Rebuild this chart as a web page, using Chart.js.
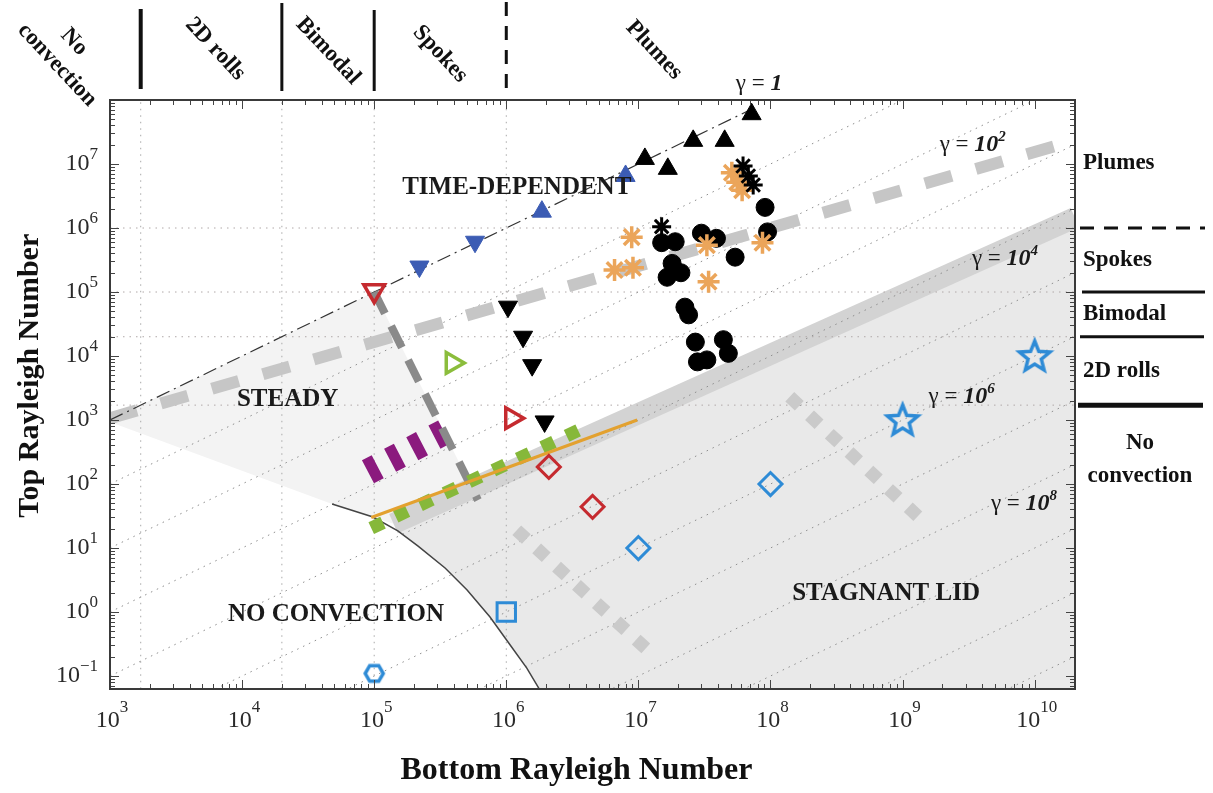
<!DOCTYPE html>
<html>
<head>
<meta charset="utf-8">
<script src="https://cdn.jsdelivr.net/npm/chart.js@4.4.0/dist/chart.umd.min.js"></script>
<style>
  html, body { margin: 0; padding: 0; background: #fff; }
</style>
</head>
<body>
<canvas id="myChart" width="1213" height="793"></canvas>
<script>
// tick values and their exponents (labels are 10 + raised exponent)
var xTickValues = [1e3, 1e4, 1e5, 1e6, 1e7, 1e8, 1e9, 1e10];
var xTickExp = ['3', '4', '5', '6', '7', '8', '9', '10'];
var yTickValues = [1e-1, 1e0, 1e1, 1e2, 1e3, 1e4, 1e5, 1e6, 1e7];
var yTickExp = ['-1', '0', '1', '2', '3', '4', '5', '6', '7'];

// regime limits, same on both axes
var regimeBounds = [1708, 2e4, 1e5, 1e6];

// markers (bottom Ra / top Ra)
var blackUpBot = [1.12e7, 1.67e7, 2.6e7, 4.5e7, 7.2e7];
var blackUpTop = [1.2e7, 8.4e6, 2.3e7, 2.3e7, 6e7];
var blueUpBot = [1.86e6, 8e6];
var blueUpTop = [1.8e6, 6.5e6];
var blueDownBot = [2.2e5, 5.8e5];
var blueDownTop = [2.5e5, 6.1e5];
var blackDownBot = [1.03e6, 1.34e6, 1.57e6, 1.95e6];
var blackDownTop = [5.9e4, 2e4, 7.2e3, 950];
var circleBot = [9.1e7, 9.5e7, 3e7, 3.9e7, 5.4e7, 1.5e7, 1.9e7, 1.8e7, 1.65e7, 2.1e7, 2.25e7, 2.4e7, 2.7e7, 4.4e7, 4.8e7, 2.8e7, 3.3e7];
var circleTop = [2.1e6, 8.7e5, 8.3e5, 6.9e5, 3.5e5, 5.9e5, 6.1e5, 2.8e5, 1.7e5, 2e5, 5.8e4, 4.4e4, 1.65e4, 1.8e4, 1.1e4, 8.1e3, 8.7e3];
var orangeAstBot = [5.1e7, 5.6e7, 6.1e7, 8.9e6, 6.6e6, 9.1e6, 3.3e7, 8.7e7, 3.4e7];
var orangeAstTop = [7.3e6, 5.2e6, 3.9e6, 7.2e5, 2.2e5, 2.4e5, 5.4e5, 5.9e5, 1.45e5];
var blackAstBot = [1.5e7, 6.2e7, 7.4e7, 6.8e7];
var blackAstTop = [1.05e6, 9.3e6, 4.7e6, 6.5e6];
var redDownBot = [1e5];
var redDownTop = [1.05e5];
var redRightBot = [1.1e6];
var redRightTop = [1.07e3];
var greenRightBot = [3.9e5];
var greenRightTop = [7.8e3];
var redDiamondBot = [2.1e6, 4.5e6];
var redDiamondTop = [185, 44];
var blueDiamondBot = [1e7, 1e8];
var blueDiamondTop = [10, 100];
var blueSquareBot = [1e6];
var blueSquareTop = [1];
var blueHexBot = [1e5];
var blueHexTop = [0.11];
var blueStarBot = [1e9, 1e10];
var blueStarTop = [1e3, 1e4];

// lines
var gammaOneBot = [1e3, 7.2e7];
var gammaOneTop = [1e3, 7.2e7];
var gammaLineBot = [1e3, 1e11];
var gammaStartTop = [1e2, 1e1, 1e0, 1e-1, 1e-2, 1e-3, 1e-4, 1e-5, 1e-6, 1e-7, 1e-8];
var gammaEndTop = [1e10, 1e9, 1e8, 1e7, 1e6, 1e5, 1e4, 1e3, 1e2, 1e1, 1e0];
var bigDashBot = [1e3, 1.55e10];
var bigDashTop = [1.07e3, 2e7];
var bandBot = [1.4e5, 2.02e10];
var bandTop = [24, 1.45e6];
var darkDashBot = [1e5, 6.1e5];
var darkDashTop = [1e5, 56];
var purpleBot = [8.97e4, 3.75e5];
var purpleTop = [155, 724];
var greenBot = [9.5e4, 3.5e6];
var greenTop = [20.5, 690];
var orangeBot = [9.5e4, 9.8e6];
var orangeTop = [30, 1000];
var lightDotABot = [1.2e6, 1.3e7];
var lightDotATop = [19, 0.21];
var lightDotBBot = [1.4e8, 1.5e9];
var lightDotBTop = [2300, 24];
var curveBot = [4.8e4, 9.8e4, 1.51e5, 2.15e5, 3.44e5, 5.05e5, 7.53e5, 1.07e6, 1.43e6, 1.8e6];
var curveTop = [48.7, 30.5, 18.5, 10.7, 4.87, 2.21, 0.835, 0.305, 0.133, 0.06];

// shaded regions
var steadyBot = [1e3, 1e5, 6.1e5, 1.4e5, 4.8e4, 1e3, 1e3];
var steadyTop = [1e3, 1e5, 56, 24, 48.7, 930, 1e3];
var lidBot = [1.4e5, 2.02e10, 2.02e10, 1.8e6, 1.43e6, 1.07e6, 7.53e5, 5.05e5, 3.44e5, 2.15e5, 1.51e5, 1.4e5];
var lidTop = [24, 1.45e6, 0.06, 0.06, 0.133, 0.305, 0.835, 2.21, 4.87, 10.7, 18.5, 24];

var SERIF = '"Liberation Serif", "DejaVu Serif", serif';

function pts(xs, ys) {
    return xs.map(function (x, i) { return {x: x, y: ys[i]}; });
}

function lineSet(xs, ys, color, width, dash, order, extra) {
    return Object.assign({
        data: pts(xs, ys),
        showLine: true,
        pointRadius: 0,
        pointHitRadius: 0,
        borderColor: color,
        backgroundColor: color,
        borderWidth: width,
        borderDash: dash,
        fill: false,
        clip: 0,
        order: order
    }, extra || {});
}

function markSet(xs, ys, style, color, filled, radius, bw, order, extra) {
    return Object.assign({
        data: pts(xs, ys),
        showLine: false,
        pointStyle: style,
        pointRadius: radius,
        pointBorderColor: color,
        pointBackgroundColor: filled ? color : 'rgba(0,0,0,0)',
        pointBorderWidth: bw,
        clip: false,
        order: order
    }, extra || {});
}

function starImg(color) {
    var cv = document.createElement('canvas');
    cv.width = cv.height = 40;
    var c = cv.getContext('2d');
    c.beginPath();
    for (var i = 0; i < 10; i++) {
        var r = i % 2 ? 7 : 16;
        var a = -Math.PI / 2 + i * Math.PI / 5;
        c.lineTo(20 + r * Math.cos(a), 21 + r * Math.sin(a));
    }
    c.closePath();
    c.strokeStyle = color;
    c.lineWidth = 3.5;
    c.stroke();
    return cv;
}

function hexImg(color) {
    var cv = document.createElement('canvas');
    cv.width = cv.height = 28;
    var c = cv.getContext('2d');
    c.beginPath();
    for (var i = 0; i < 6; i++) {
        var a = i * Math.PI / 3;
        c.lineTo(14 + 9 * Math.cos(a), 14 + 9 * Math.sin(a));
    }
    c.closePath();
    c.strokeStyle = color;
    c.lineWidth = 3.5;
    c.stroke();
    return cv;
}

var datasets = [
    lineSet(steadyBot, steadyTop, '#f3f3f3', 0, [], 100, {fill: 'shape', backgroundColor: '#f3f3f3'}),
    lineSet(lidBot, lidTop, '#e9e9e9', 0, [], 99, {fill: 'shape', backgroundColor: '#e9e9e9'}),
    lineSet(bandBot, bandTop, '#d3d3d3', 21, [], 95)
];

regimeBounds.forEach(function (b) {
    datasets.push(lineSet([b, b], [0.05, 1e8], '#a9a9a9', 1, [1.5, 5], 90));
    datasets.push(lineSet([1e3, 2.02e10], [b, b], '#b0a8a8', 1, [1.5, 5], 90));
});
gammaStartTop.forEach(function (s, i) {
    datasets.push(lineSet(gammaLineBot, [s, gammaEndTop[i]], '#8f8f8f', 1, [1.5, 5], 88));
});

datasets.push(
    lineSet(bigDashBot, bigDashTop, '#c6c6c6', 12, [28, 25], 80),
    lineSet(lightDotABot, lightDotATop, '#cacaca', 13, [13, 14], 80),
    lineSet(lightDotBBot, lightDotBTop, '#cacaca', 13, [13, 14], 80),
    lineSet(curveBot, curveTop, '#444444', 1.5, [], 70),
    lineSet(gammaOneBot, gammaOneTop, '#333333', 1.2, [14, 5, 2, 5], 70),
    lineSet(darkDashBot, darkDashTop, '#8a8a8a', 8, [24, 14], 60),
    lineSet(purpleBot, purpleTop, '#8b1a7e', 26, [11, 14], 60),
    lineSet(greenBot, greenTop, '#86b83a', 13, [13, 14], 58),
    lineSet(orangeBot, orangeTop, '#e3a12f', 3, [], 55),

    markSet(circleBot, circleTop, 'circle', '#000000', true, 9, 1, 10),
    markSet(orangeAstBot, orangeAstTop, 'star', '#eba55a', false, 11, 3.5, 9),
    markSet(blackAstBot, blackAstTop, 'star', '#000000', false, 9.5, 3, 8),
    markSet(blackUpBot, blackUpTop, 'triangle', '#000000', true, 11, 1, 5),
    markSet(blueUpBot, blueUpTop, 'triangle', '#3c5cb4', true, 11, 1, 5),
    markSet(blueDownBot, blueDownTop, 'triangle', '#3c5cb4', true, 11, 1, 5, {pointRotation: 180}),
    markSet(blackDownBot, blackDownTop, 'triangle', '#000000', true, 11, 1, 5, {pointRotation: 180}),
    markSet(redDownBot, redDownTop, 'triangle', '#c52a2f', false, 12, 3.5, 5, {pointRotation: 180}),
    markSet(redRightBot, redRightTop, 'triangle', '#c52a2f', false, 12, 3.5, 5, {pointRotation: 90}),
    markSet(greenRightBot, greenRightTop, 'triangle', '#8bbd3c', false, 12, 3.5, 5, {pointRotation: 90}),
    markSet(redDiamondBot, redDiamondTop, 'rectRot', '#c52a2f', false, 11.5, 3, 5),
    markSet(blueDiamondBot, blueDiamondTop, 'rectRot', '#2e8bd6', false, 11.5, 3, 5),
    markSet(blueSquareBot, blueSquareTop, 'rect', '#2e8bd6', false, 13, 3, 5),
    markSet(blueHexBot, blueHexTop, hexImg('#2e8bd6'), '#2e8bd6', false, 10, 3, 5),
    markSet(blueStarBot, blueStarTop, starImg('#2e8bd6'), '#2e8bd6', false, 14, 3, 5)
);

function drawRuns(c, cx, base, runs, align) {
    var w = 0;
    runs.forEach(function (r) { c.font = r.f; r.w = c.measureText(r.t).width; w += r.w; });
    var x = align === 'right' ? cx - w : cx - w / 2;
    c.textAlign = 'left';
    c.textBaseline = 'alphabetic';
    runs.forEach(function (r) { c.font = r.f; c.fillText(r.t, x, base + (r.dy || 0)); x += r.w; });
}

var decor = {
    id: 'decor',
    beforeDraw: function (chart) {
        var c = chart.ctx;
        c.save();
        c.fillStyle = '#ffffff';
        c.fillRect(0, 0, chart.width, chart.height);
        c.restore();
    },
    afterDatasetsDraw: function (chart) {
        var c = chart.ctx, a = chart.chartArea, sx = chart.scales.x, sy = chart.scales.y;
        c.save();
        c.strokeStyle = '#444';
        c.lineWidth = 1;
        c.beginPath();
        for (var d = 3; d <= 10; d++) {
            for (var m = 1; m <= 9; m++) {
                var v = m * Math.pow(10, d);
                if (v > sx.max) continue;
                var p = Math.round(sx.getPixelForValue(v)) + 0.5, len = m === 1 ? 9 : 5;
                c.moveTo(p, a.bottom); c.lineTo(p, a.bottom - len);
                c.moveTo(p, a.top); c.lineTo(p, a.top + len);
            }
        }
        for (var e = -2; e <= 7; e++) {
            for (var k = 1; k <= 9; k++) {
                var w = k * Math.pow(10, e);
                if (w < sy.min || w > sy.max) continue;
                var q = Math.round(sy.getPixelForValue(w)) + 0.5, l2 = k === 1 ? 9 : 5;
                c.moveTo(a.left, q); c.lineTo(a.left + l2, q);
                c.moveTo(a.right, q); c.lineTo(a.right - l2, q);
            }
        }
        c.stroke();
        c.lineWidth = 2;
        c.strokeStyle = '#3a3a3a';
        c.strokeRect(a.left, a.top, a.right - a.left, a.bottom - a.top);

        // region names
        c.fillStyle = '#1a1a1a';
        c.font = 'bold 25px ' + SERIF;
        c.textAlign = 'center';
        c.textBaseline = 'middle';
        [['TIME-DEPENDENT', 1.2e6, 4.4e6], ['STEADY', 2.21e4, 2.2e3],
         ['NO CONVECTION', 5.14e4, 0.93], ['STAGNANT LID', 7.5e8, 2.05]].forEach(function (t) {
            c.fillText(t[0], sx.getPixelForValue(t[1]), sy.getPixelForValue(t[2]) + 1);
        });

        // gamma labels
        var reg = '23px ' + SERIF, bi = 'italic bold 24px ' + SERIF, sup = 'italic bold 15px ' + SERIF;
        [[null, 8.2e7, 1.9e8], ['2', 3.4e9, 2.15e7], ['4', 5.96e9, 3.5e5], ['6', 2.8e9, 2.45e3], ['8', 8.3e9, 52]].forEach(function (g) {
            var runs = [{t: 'γ = ', f: reg}];
            if (g[0] === null) runs.push({t: '1', f: bi});
            else runs.push({t: '10', f: bi}, {t: g[0], f: sup, dy: -10});
            drawRuns(c, sx.getPixelForValue(g[1]), sy.getPixelForValue(g[2]) + 8, runs);
        });
        c.restore();
    },
    afterDraw: function (chart) {
        var c = chart.ctx, sx = chart.scales.x, sy = chart.scales.y, a = chart.chartArea;
        c.save();
        // tick labels: 10 with raised exponent
        c.fillStyle = '#2a2a2a';
        var big = '24px ' + SERIF, small = '17px ' + SERIF;
        xTickValues.forEach(function (v, i) {
            drawRuns(c, sx.getPixelForValue(v) + 2, a.bottom + 38, [{t: '10', f: big}, {t: xTickExp[i], f: small, dy: -15}]);
        });
        yTickValues.forEach(function (v, i) {
            var ex = yTickExp[i].replace('-', '\u2212');
            drawRuns(c, a.left - 12, sy.getPixelForValue(v) + 6, [{t: '10', f: big}, {t: ex, f: small, dy: -11}], 'right');
        });

        c.strokeStyle = '#111';
        c.fillStyle = '#111';
        // regime bars above the plot
        var bx = regimeBounds.map(function (v) { return sx.getPixelForValue(v); });
        var spec = [[9, 89, 4, []], [3, 91, 3, []], [10, 91, 3, []], [2, 91, 3, [14, 10]]];
        spec.forEach(function (s, i) {
            c.lineWidth = s[2];
            c.setLineDash(s[3]);
            c.beginPath(); c.moveTo(bx[i], s[0]); c.lineTo(bx[i], s[1]); c.stroke();
        });
        // regime lines right of the plot
        var by = regimeBounds.map(function (v) { return sy.getPixelForValue(v); });
        var rspec = [[1078, 1203, 5, []], [1080, 1204, 3, []], [1082, 1205, 3, []], [1080, 1205, 3, [14, 10]]];
        rspec.forEach(function (s, i) {
            c.lineWidth = s[2];
            c.setLineDash(s[3]);
            c.beginPath(); c.moveTo(s[0], by[i]); c.lineTo(s[1], by[i]); c.stroke();
        });
        c.setLineDash([]);

        c.font = 'bold 23px ' + SERIF;
        c.textBaseline = 'middle';
        // right labels
        c.textAlign = 'left';
        c.fillText('Plumes', 1083, 163);
        c.fillText('Spokes', 1083, (by[3] + by[2]) / 2);
        c.fillText('Bimodal', 1083, (by[2] + by[1]) / 2);
        c.fillText('2D rolls', 1083, (by[1] + by[0]) / 2);
        c.textAlign = 'center';
        c.fillText('No', 1140, 443);
        c.fillText('convection', 1140, 476);

        // rotated labels on top
        var tops = [['No', 74, 42], ['convection', 57, 65], ['2D rolls', (bx[0] + bx[1]) / 2 + 4, 49],
                    ['Bimodal', (bx[1] + bx[2]) / 2, 51], ['Spokes', (bx[2] + bx[3]) / 2, 54], ['Plumes', 654, 50]];
        tops.forEach(function (t) {
            c.save();
            c.translate(t[1], t[2]);
            c.rotate(47 * Math.PI / 180);
            c.fillText(t[0], 0, 0);
            c.restore();
        });
        c.restore();
    }
};

const ctx = document.getElementById('myChart');

let chart = new Chart(ctx, {
    type: 'scatter',
    data: { datasets: datasets },
    options: {
        responsive: false,
        animation: false,
        devicePixelRatio: 1,
        layout: { padding: { top: 100, right: 138, left: 0, bottom: 0 } },
        plugins: { legend: { display: false }, tooltip: { enabled: false } },
        elements: { line: { tension: 0 } },
        scales: {
            x: {
                type: 'logarithmic',
                min: 1e3,
                max: 2.02e10,
                afterBuildTicks: function (s) { s.ticks = xTickValues.map(function (v) { return {value: v}; }); },
                afterFit: function (s) { s.height = 104; },
                grid: { display: false, drawTicks: false },
                border: { display: false },
                ticks: { display: false },
                title: {
                    display: true,
                    text: 'Bottom Rayleigh Number    ',
                    color: '#111',
                    font: { family: SERIF, size: 32, weight: 'bold' },
                    padding: { top: 0, bottom: 3 }
                }
            },
            y: {
                type: 'logarithmic',
                min: 0.0627,
                max: 1e8,
                afterBuildTicks: function (s) { s.ticks = yTickValues.map(function (v) { return {value: v}; }); },
                afterFit: function (s) { s.width = 110; },
                grid: { display: false, drawTicks: false },
                border: { display: false },
                ticks: { display: false },
                title: {
                    display: true,
                    text: '     Top Rayleigh Number',
                    color: '#111',
                    font: { family: SERIF, size: 30, weight: 'bold' },
                    padding: { top: 12, bottom: 0 }
                }
            }
        }
    },
    plugins: [decor]
});
</script>
</body>
</html>
